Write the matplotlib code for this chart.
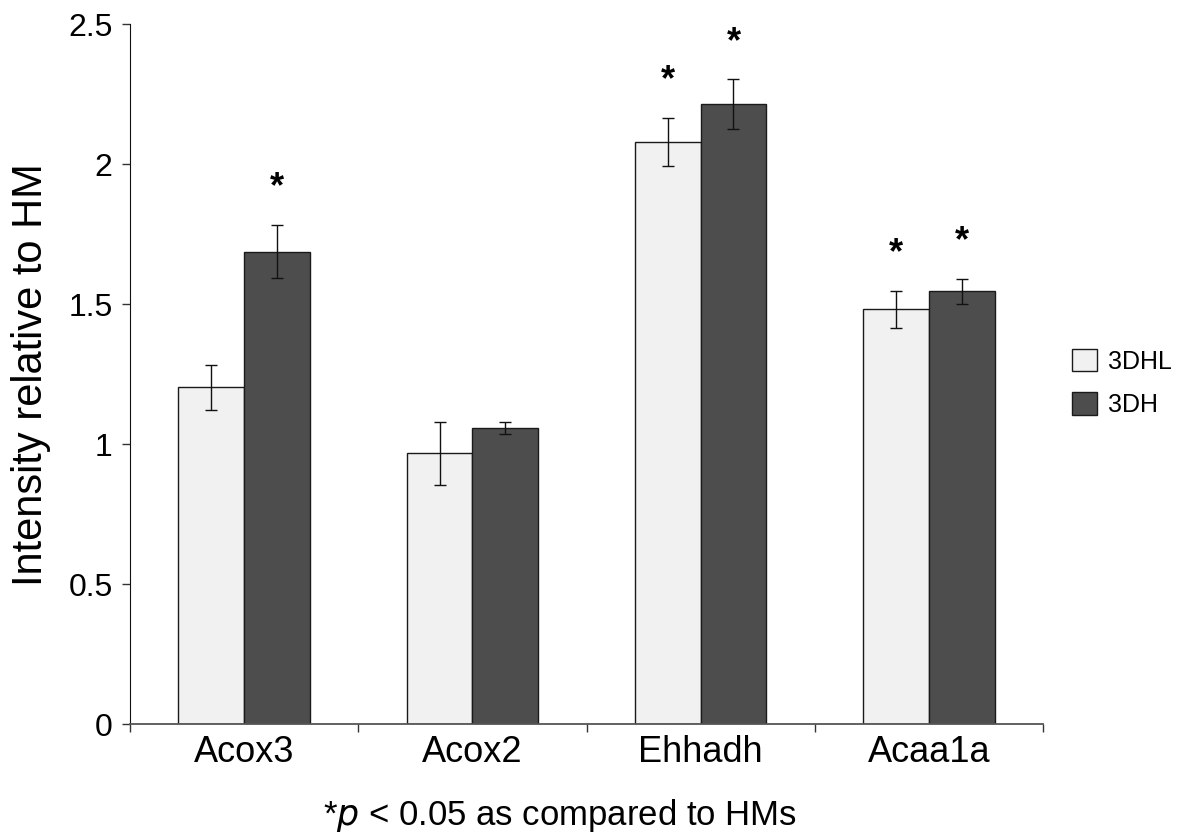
import matplotlib
matplotlib.use("Agg")
import matplotlib.pyplot as plt
import numpy as np

plt.rcParams['font.family'] = ['Liberation Sans', 'DejaVu Sans']

# data
genes = ['Acox3', 'Acox2', 'Ehhadh', 'Acaa1a']
series_names = ['3DHL', '3DH']
val_3dhl = [1.203, 0.967, 2.079, 1.482]
err_3dhl = [0.081, 0.113, 0.085, 0.066]
val_3dh = [1.687, 1.057, 2.213, 1.546]
err_3dh = [0.095, 0.021, 0.089, 0.044]
sig_3dhl = [False, False, True, True]
sig_3dh = [True, False, True, True]
yticks = [0, 0.5, 1, 1.5, 2, 2.5]
ytick_labels = ['0', '0.5', '1', '1.5', '2', '2.5']

light = '#f1f1f1'
dark = '#4d4d4d'
width = 0.288

fig = plt.figure(figsize=(11.83, 8.35), dpi=100)
ax = fig.add_axes([130/1183, 1 - 724.3/835, (1043 - 130)/1183, (724.3 - 24)/835])

x = np.arange(len(genes))
err_kw = dict(ecolor='#111111', elinewidth=1.0, capsize=4.3, capthick=1.0)
ax.bar(x - width/2, val_3dhl, width, color=light, edgecolor='#1a1a1a',
       linewidth=1.0, yerr=err_3dhl, error_kw=err_kw, label=series_names[0])
ax.bar(x + width/2, val_3dh, width, color=dark, edgecolor='#1a1a1a',
       linewidth=1.0, yerr=err_3dh, error_kw=err_kw, label=series_names[1])

# significance stars above the error bars
for xs, vals, errs, sig in [(x - width/2, val_3dhl, err_3dhl, sig_3dhl),
                            (x + width/2, val_3dh, err_3dh, sig_3dh)]:
    for xi, v, e, s in zip(xs, vals, errs, sig):
        if s:
            ax.annotate('*', (xi, v + e), xytext=(0, 20), textcoords='offset points',
                        ha='center', va='baseline', fontsize=26, fontweight='bold')

ax.set_xlim(-0.5, len(genes) - 0.5)
ax.set_ylim(0, 2.5)

# ticks sit between the groups, labels in the middle
ax.set_xticks(np.arange(len(genes) + 1) - 0.5)
ax.set_xticklabels([])
ax.set_xticks(x, minor=True)
ax.set_xticklabels(genes, minor=True, fontsize=26)
ax.tick_params(axis='x', which='major', direction='out', length=6, width=1, color='#333333')
ax.tick_params(axis='x', which='minor', length=0, pad=8)

ax.set_yticks(yticks)
ax.set_yticklabels(ytick_labels, fontsize=23)
ax.tick_params(axis='y', direction='out', length=5.5, width=1, pad=7, color='#333333')

ax.spines['top'].set_visible(False)
ax.spines['right'].set_visible(False)
ax.spines['left'].set_color('#111111')
ax.spines['bottom'].set_color('#555555')
ax.spines['bottom'].set_linewidth(1.3)

ax.set_ylabel('Intensity relative to HM', fontsize=30)
ax.yaxis.set_label_coords(-0.086, 0.5)

ax.legend(loc='center left', bbox_to_anchor=(1072/1183, 1 - 383/835),
          bbox_transform=fig.transFigure, frameon=False, fontsize=18,
          handlelength=1.0, handleheight=1.0, handletextpad=0.45,
          labelspacing=0.75, borderpad=0, borderaxespad=0)

fig.text(560/1183, 1 - 825/835, r'*$\it{p}$ < 0.05 as compared to HMs',
         ha='center', va='baseline', fontsize=25)

fig.savefig('out.png', dpi=100)
